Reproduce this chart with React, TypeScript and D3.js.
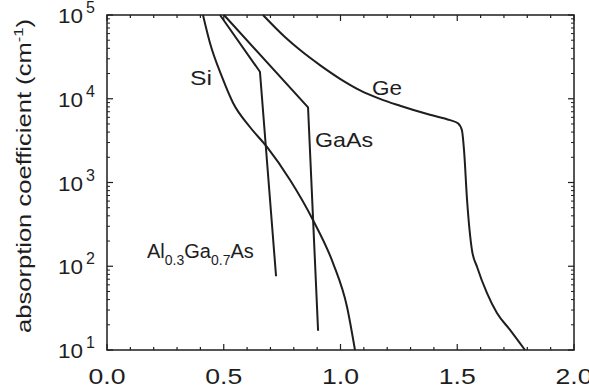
import React from "react";
import * as d3 from "d3";

const W = 589, H = 389;
const X0 = 107, X1 = 574, YT = 15, YB = 350;

const siX = [0.411, 0.441, 0.4925, 0.54, 0.612, 0.685, 0.784, 0.882, 0.968, 1.028, 1.062];
const siY = [1e5, 4.63e4, 1.82e4, 8.9e3, 4.6e3, 2.66e3, 1.07e3, 357, 109, 32.6, 10];

const algaasX = [0.484, 0.655, 0.724];
const algaasY = [1e5, 2.1e4, 76];

const gaasX = [0.501, 0.861, 0.904];
const gaasY = [1e5, 7.9e3, 17];

const geX = [0.668, 0.762, 0.827, 0.912, 0.998, 1.084, 1.169, 1.255, 1.383, 1.469, 1.503, 1.52, 1.529, 1.542, 1.563, 1.585, 1.627, 1.67, 1.726, 1.79];
const geY = [1e5, 5.46e4, 3.81e4, 2.52e4, 1.73e4, 1.26e4, 9.98e3, 8.26e3, 6.43e3, 5.55e3, 5.1e3, 4.2e3, 2.44e3, 618, 156, 98, 48, 27.6, 17.4, 10];

const xTicks = [0, 0.5, 1.0, 1.5, 2.0];
const xTickLabels = ["0.0", "0.5", "1.0", "1.5", "2.0"];
const yExps = [1, 2, 3, 4, 5];

export default function App() {
  const x = d3.scaleLinear().domain([0, 2]).range([X0, X1]);
  const y = d3.scaleLog().domain([10, 1e5]).range([YB, YT]);

  const smooth = d3.line<[number, number]>().x(d => x(d[0])).y(d => y(d[1])).curve(d3.curveMonotoneX);
  const straight = d3.line<[number, number]>().x(d => x(d[0])).y(d => y(d[1]));
  const zip = (a: number[], b: number[]) => a.map((v, i) => [v, b[i]] as [number, number]);

  const minorX = d3.range(0, 2.0001, 0.1);
  const minorY: number[] = [];
  for (let e = 1; e < 5; e++) for (let m = 2; m <= 9; m++) minorY.push(m * Math.pow(10, e));

  const stroke = "#1e1e1e";
  const font = "'Liberation Sans', Arial, sans-serif";

  return (
    <svg width={W} height={H} style={{ position: "absolute", left: 0, top: 0, background: "#fff" }} fontFamily={font}>
      <rect x={0} y={0} width={W} height={H} fill="#fff" />
      {/* frame */}
      <rect x={X0} y={YT} width={X1 - X0} height={YB - YT} fill="none" stroke={stroke} strokeWidth={1.5} />
      {/* x ticks */}
      {minorX.map((t, i) => {
        const major = Math.abs(t * 2 - Math.round(t * 2)) < 1e-6;
        const len = major ? 6 : 3;
        return (
          <g key={"xt" + i}>
            <line x1={x(t)} x2={x(t)} y1={YB} y2={YB - len} stroke={stroke} strokeWidth={1.2} />
            <line x1={x(t)} x2={x(t)} y1={YT} y2={YT + len} stroke={stroke} strokeWidth={1.2} />
          </g>
        );
      })}
      {/* y ticks */}
      {yExps.map(e => (
        <g key={"ym" + e}>
          <line x1={X0} x2={X0 + 6} y1={y(Math.pow(10, e))} y2={y(Math.pow(10, e))} stroke={stroke} strokeWidth={1.2} />
          <line x1={X1} x2={X1 - 6} y1={y(Math.pow(10, e))} y2={y(Math.pow(10, e))} stroke={stroke} strokeWidth={1.2} />
        </g>
      ))}
      {minorY.map((v, i) => (
        <g key={"yn" + i}>
          <line x1={X0} x2={X0 + 3} y1={y(v)} y2={y(v)} stroke={stroke} strokeWidth={1} />
          <line x1={X1} x2={X1 - 3} y1={y(v)} y2={y(v)} stroke={stroke} strokeWidth={1} />
        </g>
      ))}
      {/* x tick labels */}
      {xTicks.map((t, i) => (
        <text key={"xl" + i} x={x(t)} y={384} fontSize={22} textAnchor="middle" fill={stroke}
          textLength={37} lengthAdjust="spacingAndGlyphs">{xTickLabels[i]}</text>
      ))}
      {/* y tick labels */}
      {yExps.map(e => (
        <g key={"yl" + e}>
          <text x={58} y={y(Math.pow(10, e)) + 8} fontSize={21} fill={stroke}
            textLength={25} lengthAdjust="spacingAndGlyphs">10</text>
          <text x={86} y={y(Math.pow(10, e)) - 2} fontSize={16} fill={stroke}>{e}</text>
        </g>
      ))}
      {/* y axis title */}
      <text transform={`translate(31,176) rotate(-90)`} fontSize={20} textAnchor="middle" fill={stroke}
        textLength={314} lengthAdjust="spacingAndGlyphs">
        absorption coefficient (cm<tspan dy={-8} fontSize={13}>-1</tspan><tspan dy={8}>)</tspan>
      </text>
      {/* curves */}
      <path d={smooth(zip(siX, siY)) || ""} fill="none" stroke={stroke} strokeWidth={2} />
      <path d={straight(zip(algaasX, algaasY)) || ""} fill="none" stroke={stroke} strokeWidth={2} />
      <path d={straight(zip(gaasX, gaasY)) || ""} fill="none" stroke={stroke} strokeWidth={2} />
      <path d={smooth(zip(geX, geY)) || ""} fill="none" stroke={stroke} strokeWidth={2} />
      {/* labels */}
      <text x={190} y={85} fontSize={21} fill={stroke} textLength={22} lengthAdjust="spacingAndGlyphs">Si</text>
      <text x={315} y={147} fontSize={21} fill={stroke} textLength={58} lengthAdjust="spacingAndGlyphs">GaAs</text>
      <text x={372} y={95} fontSize={21} fill={stroke} textLength={30} lengthAdjust="spacingAndGlyphs">Ge</text>
      <text x={147} y={258} fontSize={20} fill={stroke}>
        Al<tspan dy={7} fontSize={14}>0.3</tspan><tspan dy={-7}>Ga</tspan><tspan dy={7} fontSize={14}>0.7</tspan><tspan dy={-7}>As</tspan>
      </text>
    </svg>
  );
}
